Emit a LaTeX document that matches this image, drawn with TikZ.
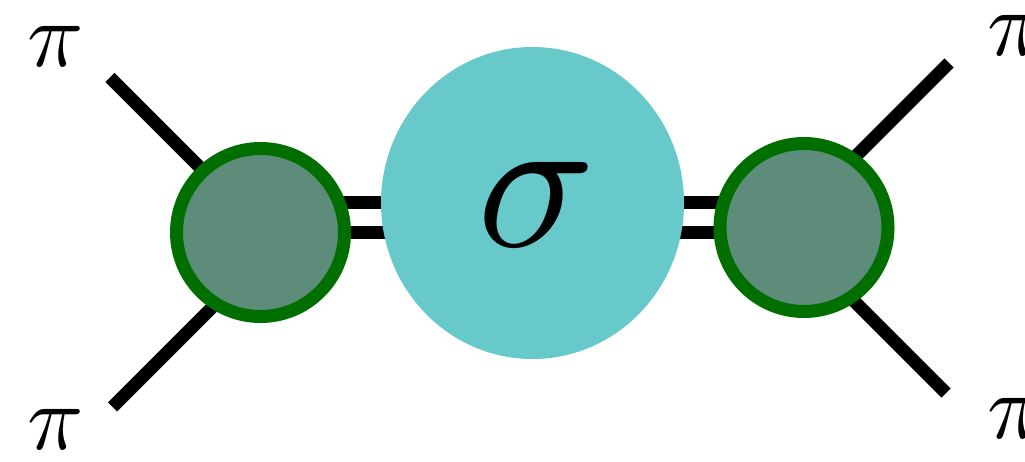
\documentclass[tikz,border=0pt]{standalone}
\usetikzlibrary{calc,shapes.geometric}
\definecolor{sigmacyan}{HTML}{67C9CA}
\definecolor{blobfill}{HTML}{5E8C7B}
\definecolor{blobring}{HTML}{006F00}
\begin{document}
\begin{tikzpicture}[x=1pt,y=-1pt,
  leg/.style={line width=13pt,black},
  bar/.style={line width=13pt,black},
  blob/.style={circle,draw=blobring,fill=blobfill,line width=13pt,minimum size=168pt,inner sep=0pt},
  reso/.style={ellipse,fill=sigmacyan,minimum width=303pt,minimum height=312pt,inner sep=0pt},
  pilabel/.style={inner sep=0pt,scale=9.3}
]
\useasboundingbox (0,0) rectangle (1025,462);

% vertex positions
\coordinate (Lc) at (260.5,232.5);
\coordinate (Rc) at (804,227.5);
\coordinate (Sc) at (532.5,203);

% outer ends of the pion legs
\coordinate (eTL) at (110,77.5);
\coordinate (eBL) at (112.5,407);
\coordinate (eTR) at (949,63);
\coordinate (eBR) at (946,393);
% inner ends, hidden below the vertex blobs
\coordinate (iTL) at (260,227.5);
\coordinate (iBL) at (260,259.5);
\coordinate (iTR) at (804,208);
\coordinate (iBR) at (804,251);

% double propagator ends
\coordinate (lb1) at (260,202.5);
\coordinate (lb2) at (260,232.5);
\coordinate (rb1) at (804,203);
\coordinate (rb2) at (804,233);
\coordinate (sb1) at (532,202.5);
\coordinate (sb2) at (532,232.5);
\coordinate (tb1) at (532,203);
\coordinate (tb2) at (532,233);

% legs and double lines
\draw[leg] (eTL) -- (iTL);
\draw[leg] (eBL) -- (iBL);
\draw[leg] (eTR) -- (iTR);
\draw[leg] (eBR) -- (iBR);
\draw[bar] (lb1) -- (sb1);
\draw[bar] (lb2) -- (sb2);
\draw[bar] (tb1) -- (rb1);
\draw[bar] (tb2) -- (rb2);

% resonance and vertices
\node[reso] (S) at (Sc) {};
\node[inner sep=0pt,scale=19.5] (sig) at (537,205) {$\sigma$};
\node[blob] (L) at (Lc) {};
\node[blob] (R) at (Rc) {};

% pion labels
\node[pilabel] (pTL) at (55.5,46) {$\pi$};
\node[pilabel] (pBL) at (55.5,429) {$\pi$};
\node[pilabel] (pTR) at (1016,35) {$\pi$};
\node[pilabel] (pBR) at (1016,418.5) {$\pi$};
\end{tikzpicture}
\end{document}
